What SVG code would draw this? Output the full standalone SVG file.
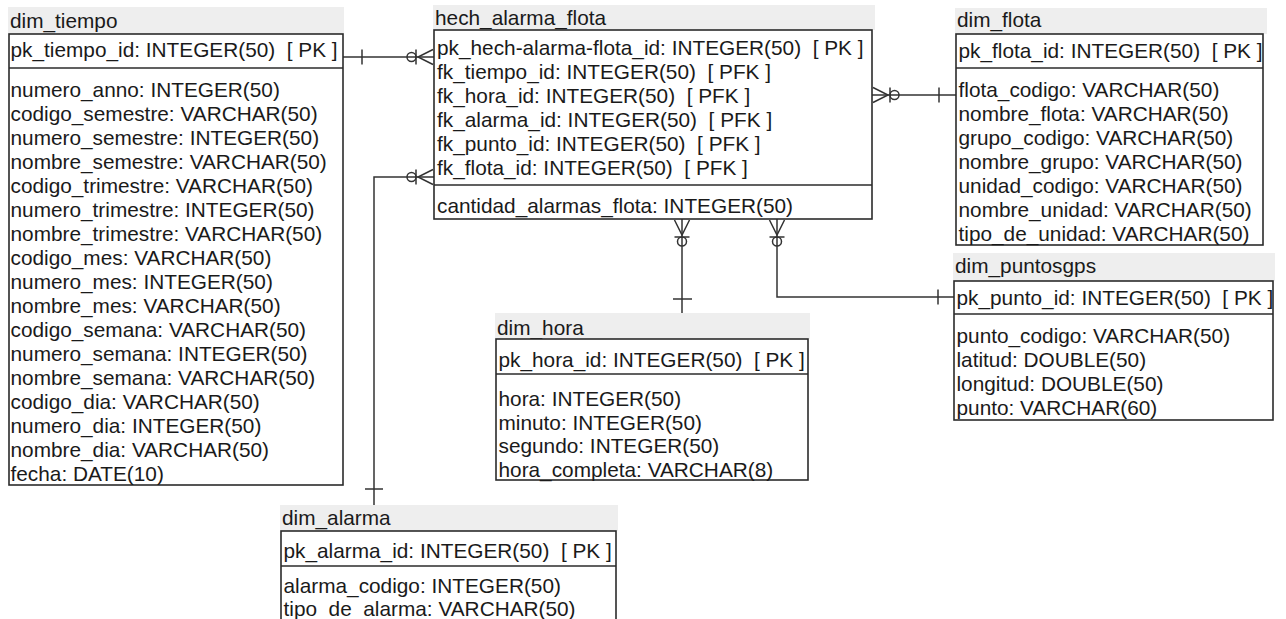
<svg xmlns="http://www.w3.org/2000/svg" width="1286" height="619" viewBox="0 0 1286 619">
  <style>
    .band { fill: #eeeeee; stroke: none; }
    .box { fill: #ffffff; stroke: #2b2b2b; stroke-width: 1.6; }
    .sep { stroke: #2b2b2b; stroke-width: 1.6; }
    .t { font-family: "Liberation Sans", Arial, sans-serif; font-size: 20.8px; fill: #1a1a1a; }
    .ln { fill: none; stroke: #333333; stroke-width: 1.5; }
  </style>
  <defs>
    <!-- many end: crow's foot with bar and circle; drawn pointing right (table at x=0, toward negative x) -->
    <g id="many">
      <path class="ln" d="M0,-7.5 L-15,0 L0,7.5 M-17,-7.5 L-17,7.5"/>
      <circle class="ln" cx="-21.5" cy="0" r="4.5" fill="#ffffff"/>
    </g>
  </defs>

  <rect x="0" y="0" width="1286" height="619" fill="#ffffff"/>

  <!-- connectors -->
  <g id="connectors">
    <!-- dim_tiempo -> hech_alarma_flota -->
    <line class="ln" x1="343" y1="57" x2="434" y2="57"/>
    <line class="ln" x1="362" y1="49.5" x2="362" y2="64.5"/>
    <use href="#many" transform="translate(433,57)"/>
    <!-- dim_flota -> hech_alarma_flota -->
    <line class="ln" x1="872" y1="95" x2="956" y2="95"/>
    <line class="ln" x1="939" y1="87.5" x2="939" y2="102.5"/>
    <use href="#many" transform="translate(873,95) scale(-1,1)"/>
    <!-- dim_alarma -> hech_alarma_flota -->
    <polyline class="ln" points="434,177 374,177 374,505"/>
    <line class="ln" x1="365" y1="489" x2="383" y2="489"/>
    <use href="#many" transform="translate(433,177)"/>
    <!-- dim_hora -> hech_alarma_flota -->
    <line class="ln" x1="682" y1="219" x2="682" y2="313"/>
    <line class="ln" x1="673" y1="299" x2="692" y2="299"/>
    <use href="#many" transform="translate(682,220) rotate(-90)"/>
    <!-- dim_puntosgps -> hech_alarma_flota -->
    <polyline class="ln" points="777,219 777,297 954,297"/>
    <line class="ln" x1="938" y1="289.5" x2="938" y2="304.5"/>
    <use href="#many" transform="translate(777,220) rotate(-90)"/>
  </g>

  <!-- dim_tiempo -->
  <g id="dim_tiempo">
    <rect class="band" x="8" y="7" width="336" height="27"/>
    <text class="t" x="10" y="28">dim_tiempo</text>
    <rect class="box" x="9" y="34" width="334" height="451"/>
    <line class="sep" x1="9" y1="68" x2="343" y2="68"/>
    <text class="t" x="10.5" y="57" xml:space="preserve">pk_tiempo_id: INTEGER(50)  [ PK ]</text>
    <text class="t" x="10.5" y="97">numero_anno: INTEGER(50)</text>
    <text class="t" x="10.5" y="121">codigo_semestre: VARCHAR(50)</text>
    <text class="t" x="10.5" y="145">numero_semestre: INTEGER(50)</text>
    <text class="t" x="10.5" y="169">nombre_semestre: VARCHAR(50)</text>
    <text class="t" x="10.5" y="193">codigo_trimestre: VARCHAR(50)</text>
    <text class="t" x="10.5" y="217">numero_trimestre: INTEGER(50)</text>
    <text class="t" x="10.5" y="241">nombre_trimestre: VARCHAR(50)</text>
    <text class="t" x="10.5" y="265">codigo_mes: VARCHAR(50)</text>
    <text class="t" x="10.5" y="289">numero_mes: INTEGER(50)</text>
    <text class="t" x="10.5" y="313">nombre_mes: VARCHAR(50)</text>
    <text class="t" x="10.5" y="337">codigo_semana: VARCHAR(50)</text>
    <text class="t" x="10.5" y="361">numero_semana: INTEGER(50)</text>
    <text class="t" x="10.5" y="385">nombre_semana: VARCHAR(50)</text>
    <text class="t" x="10.5" y="409">codigo_dia: VARCHAR(50)</text>
    <text class="t" x="10.5" y="433">numero_dia: INTEGER(50)</text>
    <text class="t" x="10.5" y="457">nombre_dia: VARCHAR(50)</text>
    <text class="t" x="10.5" y="481">fecha: DATE(10)</text>
  </g>

  <!-- hech_alarma_flota -->
  <g id="hech_alarma_flota">
    <rect class="band" x="433" y="5" width="442" height="25"/>
    <text class="t" x="435" y="25">hech_alarma_flota</text>
    <rect class="box" x="434" y="30" width="438" height="189"/>
    <line class="sep" x1="434" y1="185" x2="872" y2="185"/>
    <text class="t" x="437" y="55" xml:space="preserve">pk_hech-alarma-flota_id: INTEGER(50)  [ PK ]</text>
    <text class="t" x="437" y="79" xml:space="preserve">fk_tiempo_id: INTEGER(50)  [ PFK ]</text>
    <text class="t" x="437" y="103" xml:space="preserve">fk_hora_id: INTEGER(50)  [ PFK ]</text>
    <text class="t" x="437" y="127" xml:space="preserve">fk_alarma_id: INTEGER(50)  [ PFK ]</text>
    <text class="t" x="437" y="151" xml:space="preserve">fk_punto_id: INTEGER(50)  [ PFK ]</text>
    <text class="t" x="437" y="175" xml:space="preserve">fk_flota_id: INTEGER(50)  [ PFK ]</text>
    <text class="t" x="437" y="213">cantidad_alarmas_flota: INTEGER(50)</text>
  </g>

  <!-- dim_flota -->
  <g id="dim_flota">
    <rect class="band" x="955" y="8" width="312" height="26"/>
    <text class="t" x="957" y="27">dim_flota</text>
    <rect class="box" x="956" y="34" width="307" height="211"/>
    <line class="sep" x1="956" y1="68" x2="1263" y2="68"/>
    <text class="t" x="958.5" y="58" xml:space="preserve">pk_flota_id: INTEGER(50)  [ PK ]</text>
    <text class="t" x="958.5" y="97">flota_codigo: VARCHAR(50)</text>
    <text class="t" x="958.5" y="121">nombre_flota: VARCHAR(50)</text>
    <text class="t" x="958.5" y="145">grupo_codigo: VARCHAR(50)</text>
    <text class="t" x="958.5" y="169">nombre_grupo: VARCHAR(50)</text>
    <text class="t" x="958.5" y="193">unidad_codigo: VARCHAR(50)</text>
    <text class="t" x="958.5" y="217">nombre_unidad: VARCHAR(50)</text>
    <text class="t" x="958.5" y="241">tipo_de_unidad: VARCHAR(50)</text>
  </g>

  <!-- dim_puntosgps -->
  <g id="dim_puntosgps">
    <rect class="band" x="953" y="253" width="322" height="28"/>
    <text class="t" x="955" y="273">dim_puntosgps</text>
    <rect class="box" x="954" y="281" width="319" height="139"/>
    <line class="sep" x1="954" y1="314" x2="1273" y2="314"/>
    <text class="t" x="956.5" y="305" xml:space="preserve">pk_punto_id: INTEGER(50)  [ PK ]</text>
    <text class="t" x="956.5" y="343">punto_codigo: VARCHAR(50)</text>
    <text class="t" x="956.5" y="367">latitud: DOUBLE(50)</text>
    <text class="t" x="956.5" y="391">longitud: DOUBLE(50)</text>
    <text class="t" x="956.5" y="415">punto: VARCHAR(60)</text>
  </g>

  <!-- dim_hora -->
  <g id="dim_hora">
    <rect class="band" x="495" y="313" width="315" height="26"/>
    <text class="t" x="497" y="335">dim_hora</text>
    <rect class="box" x="496" y="339" width="312" height="141"/>
    <line class="sep" x1="496" y1="374" x2="808" y2="374"/>
    <text class="t" x="498.5" y="367" xml:space="preserve">pk_hora_id: INTEGER(50)  [ PK ]</text>
    <text class="t" x="498.5" y="406">hora: INTEGER(50)</text>
    <text class="t" x="498.5" y="429.5">minuto: INTEGER(50)</text>
    <text class="t" x="498.5" y="453">segundo: INTEGER(50)</text>
    <text class="t" x="498.5" y="476.5">hora_completa: VARCHAR(8)</text>
  </g>

  <!-- dim_alarma -->
  <g id="dim_alarma">
    <rect class="band" x="280" y="505" width="338" height="26"/>
    <text class="t" x="282" y="525">dim_alarma</text>
    <rect class="box" x="281" y="531" width="335" height="100"/>
    <line class="sep" x1="281" y1="566" x2="616" y2="566"/>
    <text class="t" x="283.5" y="558" xml:space="preserve">pk_alarma_id: INTEGER(50)  [ PK ]</text>
    <text class="t" x="283.5" y="593">alarma_codigo: INTEGER(50)</text>
    <text class="t" x="283.5" y="616">tipo_de_alarma: VARCHAR(50)</text>
  </g>
</svg>
